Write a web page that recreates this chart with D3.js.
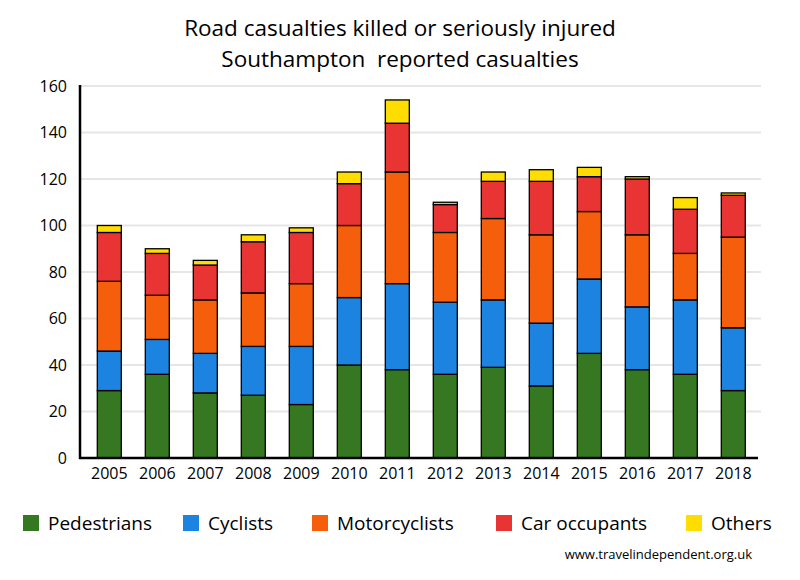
<!DOCTYPE html>
<html><head><meta charset="utf-8">
<script src="https://cdn.jsdelivr.net/npm/d3@7"></script>
<style>body{margin:0;background:#fff}svg{display:block}text{font-family:"Open Sans","Noto Sans",sans-serif}</style>
</head><body><svg id="c" width="800" height="580"></svg>
<script>
const years = ["2005","2006","2007","2008","2009","2010","2011","2012","2013","2014","2015","2016","2017","2018"];
const seriesNames = ["Pedestrians","Cyclists","Motorcyclists","Car occupants","Others"];
const pedestrians   = [29,36,28,27,23,40,38,36,39,31,45,38,36,29];
const cyclists      = [17,15,17,21,25,29,37,31,29,27,32,27,32,27];
const motorcyclists = [30,19,23,23,27,31,48,30,35,38,29,31,20,39];
const carOccupants  = [21,18,15,22,22,18,21,12,16,23,15,24,19,18];
const others        = [3,2,2,3,2,5,10,1,4,5,4,1,5,1];
const yTicks = [0,20,40,60,80,100,120,140,160];
const colors = ["#367821","#1c84e0","#f55f0b","#e93434","#ffdd00"];
const titleLines = ["Road casualties killed or seriously injured","Southampton  reported casualties"];

const svg = d3.select("#c");
const data = years.map((y,i)=>({year:y, Pedestrians:pedestrians[i], Cyclists:cyclists[i], Motorcyclists:motorcyclists[i], "Car occupants":carOccupants[i], Others:others[i]}));
const stack = d3.stack().keys(seriesNames)(data);

const x = d3.scaleBand().domain(years).range([85.3,757.3]).paddingInner(0.5).paddingOuter(0.25);
const y = d3.scaleLinear().domain([0,160]).range([458,86]);

// grid
svg.append("g").selectAll("line").data(yTicks.slice(1)).join("line")
  .attr("x1",80).attr("x2",761).attr("y1",d=>y(d)).attr("y2",d=>y(d))
  .attr("stroke","#e6e6e6").attr("stroke-width",2);

// bars
svg.append("g").selectAll("g").data(stack).join("g").attr("fill",(d,i)=>colors[i])
  .selectAll("rect").data(d=>d).join("rect")
  .attr("x",d=>x(d.data.year)).attr("width",x.bandwidth())
  .attr("y",d=>y(d[1])).attr("height",d=>y(d[0])-y(d[1]))
  .attr("stroke","#000").attr("stroke-width",1.3);

// y axis
const ya = svg.append("g").attr("transform","translate(80,0)").call(d3.axisLeft(y).tickValues(yTicks).tickSize(0).tickPadding(13));
ya.select(".domain").attr("stroke","#000").attr("stroke-width",2.5).attr("d","M0,85V459");
ya.selectAll("text").attr("font-size",16).attr("fill","#000").style("font-family","'Open Sans','Noto Sans',sans-serif");

// x axis
const xa = svg.append("g").attr("transform","translate(0,458)").call(d3.axisBottom(x).tickSize(0).tickPadding(10));
xa.select(".domain").attr("stroke","#000").attr("stroke-width",2.5).attr("d","M79,0H758");
xa.selectAll("text").attr("font-size",16).attr("fill","#000").style("font-family","'Open Sans','Noto Sans',sans-serif");

// title
svg.append("g").selectAll("text").data(titleLines).join("text")
  .attr("x",400).attr("y",(d,i)=>36+i*31).attr("text-anchor","middle")
  .style("white-space","pre")
  .attr("font-size",22.5).attr("fill","#000").text(d=>d);

// legend
const legX = [23,183,312,496,686];
const lg = svg.append("g").selectAll("g").data(seriesNames).join("g")
  .attr("transform",(d,i)=>`translate(${legX[i]},515)`);
lg.append("rect").attr("width",16).attr("height",16).attr("fill",(d,i)=>colors[i]);
lg.append("text").attr("x",25).attr("y",15).attr("font-size",19).attr("fill","#000").text(d=>d);

svg.append("text").attr("x",752).attr("y",559).attr("text-anchor","end").attr("font-size",13).attr("fill","#000").text("www.travelindependent.org.uk");
</script></body></html>
